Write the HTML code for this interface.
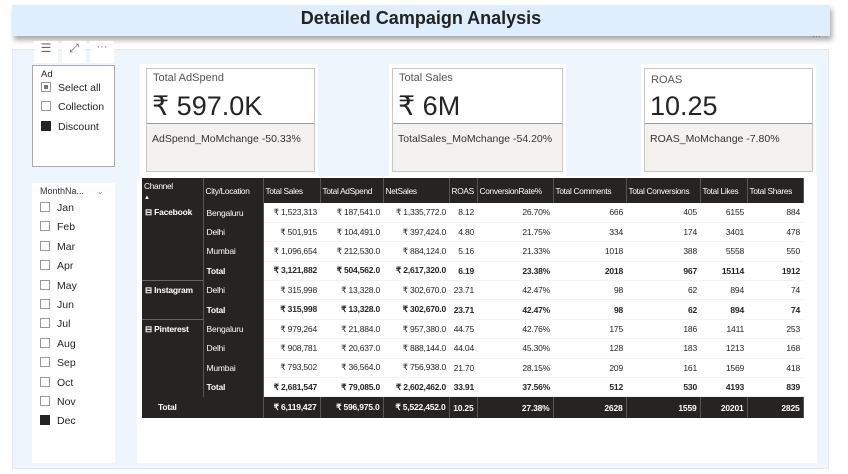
<!DOCTYPE html>
<html><head><meta charset="utf-8"><style>
*{box-sizing:border-box;margin:0;padding:0}
body{width:848px;height:474px;background:#fff;font-family:"Liberation Sans",sans-serif;position:relative;overflow:hidden;color:#252423}
.abs{position:absolute}
#title{left:12px;top:5px;width:818px;height:31px;background:#deeefd;box-shadow:2px 4px 5px rgba(0,0,0,.35);text-align:center;font-weight:bold;font-size:18px;line-height:27px;color:#222}
#panel{left:12px;top:49px;width:817px;height:420px;background:#eef5fd;border:1px solid #e2e8ef}
.card{background:#fff}
.kpi{border:1px solid #c8c6c4;background:#fff}
.kpi .t{position:absolute;left:6px;top:3px;font-size:11px;color:#555}
.kpi .v{position:absolute;left:5px;top:22px;font-size:27px;color:#252423}
.kpi .b{position:absolute;left:0;right:0;top:54px;bottom:0;background:#f3f2f1;border-top:1px solid #999;font-size:10.5px;padding:9px 5px;color:#333}
table{border-collapse:collapse;font-size:8.5px;table-layout:fixed;letter-spacing:-0.2px}
td{height:19.4px;padding:0 3px;white-space:nowrap;overflow:hidden}
th{height:25px;padding:0 2px;background:#252423;color:#fff;font-weight:normal;text-align:left;font-size:8.3px;border-right:1px solid #555;white-space:nowrap;overflow:hidden;letter-spacing:-0.3px}
td.d{background:#252423;color:#fff;border-right:1px solid #555}
td.n{text-align:right;border-bottom:1px solid #f2f2f2}
tr.tot td{font-weight:bold}
tr.grand td{background:#252423;color:#fff;font-weight:bold;text-align:right;border-right:1px solid #555;height:21px}
.cb{display:inline-block;width:10px;height:10px;border:1px solid #999;vertical-align:-1px;margin-right:7px;background:#fff}
.cb.on{background:#252423;border-color:#252423}
.sl div{font-size:10.5px;height:19.4px}
</style></head><body>
<div id="title" class="abs">Detailed Campaign Analysis</div>
<div class="abs" style="left:812px;top:31px;font-size:9px;color:#666">···</div>
<div id="panel" class="abs"></div>

<div class="abs" style="left:34px;top:41px;width:24px;height:22px;background:#fff;text-align:center;font-size:12px;color:#666">☰</div>
<div class="abs" style="left:62px;top:41px;width:24px;height:22px;background:#fff;text-align:center;font-size:12px;color:#666">⤢</div>
<div class="abs" style="left:90px;top:41px;width:24px;height:22px;background:#fff;text-align:center;font-size:11px;color:#666">···</div>

<div class="abs sl" style="left:32px;top:65px;width:83px;height:102px;background:#fff;border:1px solid #aaa;padding:3px 8px">
<div style="font-size:9.5px;height:13px">Ad</div>
<div><span class="cb" style="box-shadow:inset 0 0 0 2px #fff;background:#777"></span>Select all</div>
<div><span class="cb"></span>Collection</div>
<div><span class="cb on"></span>Discount</div>
</div>

<div class="abs sl" style="left:32px;top:183px;width:83px;height:280px;background:#fff;padding:3px 8px">
<div style="font-size:9px;height:16px;color:#333">MonthNa... <span style="color:#888;margin-left:10px">⌄</span></div>
<div><span class="cb"></span>Jan</div>
<div><span class="cb"></span>Feb</div>
<div><span class="cb"></span>Mar</div>
<div><span class="cb"></span>Apr</div>
<div><span class="cb"></span>May</div>
<div><span class="cb"></span>Jun</div>
<div><span class="cb"></span>Jul</div>
<div><span class="cb"></span>Aug</div>
<div><span class="cb"></span>Sep</div>
<div><span class="cb"></span>Oct</div>
<div><span class="cb"></span>Nov</div>
<div><span class="cb on"></span>Dec</div>
</div>

<div class="abs card" style="left:140px;top:64px;width:178px;height:112px"></div>
<div class="abs kpi" style="left:146px;top:68px;width:169px;height:104px">
<div class="t">Total AdSpend</div><div class="v">₹ 597.0K</div><div class="b">AdSpend_MoMchange -50.33%</div></div>

<div class="abs card" style="left:389px;top:64px;width:177px;height:112px"></div>
<div class="abs kpi" style="left:392px;top:68px;width:171px;height:104px">
<div class="t">Total Sales</div><div class="v">₹ 6M</div><div class="b">TotalSales_MoMchange -54.20%</div></div>

<div class="abs card" style="left:641px;top:64px;width:175px;height:112px"></div>
<div class="abs kpi" style="left:644px;top:68px;width:169px;height:104px">
<div class="t" style="top:5px">ROAS</div><div class="v">10.25</div><div class="b">ROAS_MoMchange -7.80%</div></div>

<div class="abs" style="left:137px;top:176px;width:680px;height:287px;background:#fff"></div>
<table class="abs" style="left:142px;top:178px;width:661px">
<colgroup><col style="width:61px"><col style="width:60px"><col style="width:57px"><col style="width:63px"><col style="width:66px"><col style="width:28px"><col style="width:76px"><col style="width:73px"><col style="width:74px"><col style="width:47px"><col style="width:56px"></colgroup>
<tr><th>Channel<br><span style="font-size:6px">▲</span></th><th>City/Location</th><th>Total Sales</th><th>Total AdSpend</th><th>NetSales</th><th>ROAS</th><th>ConversionRate%</th><th>Total Comments</th><th>Total Conversions</th><th>Total Likes</th><th>Total Shares</th></tr>
<tr><td class="d" rowspan="4" style="vertical-align:top;padding-top:4px;font-weight:bold">⊟ Facebook</td><td class="d">Bengaluru</td><td class="n">₹ 1,523,313</td><td class="n">₹ 187,541.0</td><td class="n">₹ 1,335,772.0</td><td class="n">8.12</td><td class="n">26.70%</td><td class="n">666</td><td class="n">405</td><td class="n">6155</td><td class="n">884</td></tr>
<tr><td class="d">Delhi</td><td class="n">₹ 501,915</td><td class="n">₹ 104,491.0</td><td class="n">₹ 397,424.0</td><td class="n">4.80</td><td class="n">21.75%</td><td class="n">334</td><td class="n">174</td><td class="n">3401</td><td class="n">478</td></tr>
<tr><td class="d">Mumbai</td><td class="n">₹ 1,096,654</td><td class="n">₹ 212,530.0</td><td class="n">₹ 884,124.0</td><td class="n">5.16</td><td class="n">21.33%</td><td class="n">1018</td><td class="n">388</td><td class="n">5558</td><td class="n">550</td></tr>
<tr class="tot"><td class="d">Total</td><td class="n">₹ 3,121,882</td><td class="n">₹ 504,562.0</td><td class="n">₹ 2,617,320.0</td><td class="n">6.19</td><td class="n">23.38%</td><td class="n">2018</td><td class="n">967</td><td class="n">15114</td><td class="n">1912</td></tr>
<tr><td class="d" rowspan="2" style="vertical-align:top;padding-top:4px;font-weight:bold;border-top:1px solid #666">⊟ Instagram</td><td class="d">Delhi</td><td class="n">₹ 315,998</td><td class="n">₹ 13,328.0</td><td class="n">₹ 302,670.0</td><td class="n">23.71</td><td class="n">42.47%</td><td class="n">98</td><td class="n">62</td><td class="n">894</td><td class="n">74</td></tr>
<tr class="tot"><td class="d">Total</td><td class="n">₹ 315,998</td><td class="n">₹ 13,328.0</td><td class="n">₹ 302,670.0</td><td class="n">23.71</td><td class="n">42.47%</td><td class="n">98</td><td class="n">62</td><td class="n">894</td><td class="n">74</td></tr>
<tr><td class="d" rowspan="4" style="vertical-align:top;padding-top:4px;font-weight:bold;border-top:1px solid #666">⊟ Pinterest</td><td class="d">Bengaluru</td><td class="n">₹ 979,264</td><td class="n">₹ 21,884.0</td><td class="n">₹ 957,380.0</td><td class="n">44.75</td><td class="n">42.76%</td><td class="n">175</td><td class="n">186</td><td class="n">1411</td><td class="n">253</td></tr>
<tr><td class="d">Delhi</td><td class="n">₹ 908,781</td><td class="n">₹ 20,637.0</td><td class="n">₹ 888,144.0</td><td class="n">44.04</td><td class="n">45.30%</td><td class="n">128</td><td class="n">183</td><td class="n">1213</td><td class="n">168</td></tr>
<tr><td class="d">Mumbai</td><td class="n">₹ 793,502</td><td class="n">₹ 36,564.0</td><td class="n">₹ 756,938.0</td><td class="n">21.70</td><td class="n">28.15%</td><td class="n">209</td><td class="n">161</td><td class="n">1569</td><td class="n">418</td></tr>
<tr class="tot"><td class="d">Total</td><td class="n">₹ 2,681,547</td><td class="n">₹ 79,085.0</td><td class="n">₹ 2,602,462.0</td><td class="n">33.91</td><td class="n">37.56%</td><td class="n">512</td><td class="n">530</td><td class="n">4193</td><td class="n">839</td></tr>
<tr class="grand"><td colspan="2" style="text-align:left;padding-left:16px">Total</td><td>₹ 6,119,427</td><td>₹ 596,975.0</td><td>₹ 5,522,452.0</td><td>10.25</td><td>27.38%</td><td>2628</td><td>1559</td><td>20201</td><td>2825</td></tr>
</table>
</body></html>
